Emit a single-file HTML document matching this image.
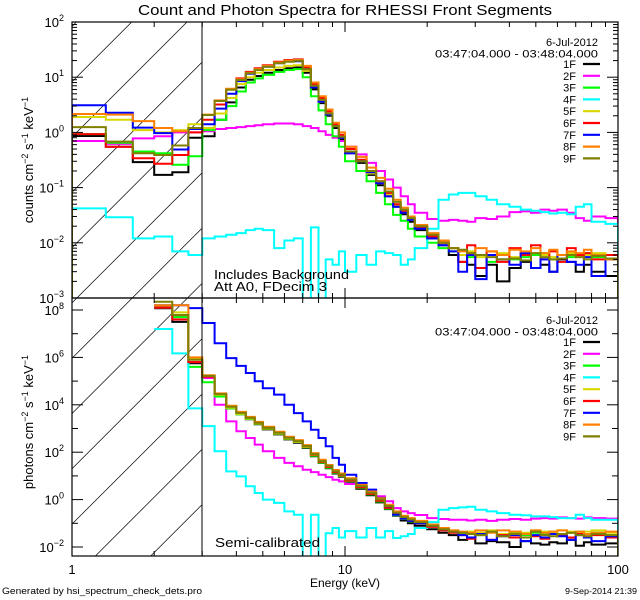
<!DOCTYPE html>
<html><head><meta charset="utf-8"><title>RHESSI spectra</title>
<style>
html,body{margin:0;padding:0;background:#fff;width:640px;height:600px;overflow:hidden;}
svg{display:block;font-family:"Liberation Sans",sans-serif;overflow:hidden;}
</style></head>
<body>
<svg id="chart" width="640" height="600" viewBox="0 0 640 600" xmlns="http://www.w3.org/2000/svg">
<defs>
<clipPath id="clipTop"><rect x="72" y="22" width="546" height="276"/></clipPath>
<clipPath id="clipBot"><rect x="72" y="298" width="546" height="258"/></clipPath>
<clipPath id="clipHatch"><rect x="72" y="22" width="130" height="534"/></clipPath>
</defs>
<rect x="0" y="0" width="640" height="600" fill="#fff"/>
<text x="345" y="15" font-size="15" text-anchor="middle" textLength="414" lengthAdjust="spacingAndGlyphs">Count and Photon Spectra for RHESSI Front Segments</text>
<g id="hatch" clip-path="url(#clipHatch)"></g>
<g id="seriesTop" clip-path="url(#clipTop)"></g>
<g id="seriesBot" clip-path="url(#clipBot)"></g>
<g id="axes"></g>
<line x1="202" y1="22" x2="202" y2="556" stroke="#000" stroke-width="1"/>
<text transform="translate(33,160) rotate(-90)" font-size="13" text-anchor="middle">counts cm<tspan dy="-5" font-size="9">−2</tspan><tspan dy="5"> s</tspan><tspan dy="-5" font-size="9">−1</tspan><tspan dy="5"> keV</tspan><tspan dy="-5" font-size="9">−1</tspan></text>
<text transform="translate(33,422) rotate(-90)" font-size="13" text-anchor="middle">photons cm<tspan dy="-5" font-size="9">−2</tspan><tspan dy="5"> s</tspan><tspan dy="-5" font-size="9">−1</tspan><tspan dy="5"> keV</tspan><tspan dy="-5" font-size="9">−1</tspan></text>
<text x="345" y="587" font-size="12" text-anchor="middle">Energy (keV)</text>
<text x="214" y="279" font-size="13" textLength="135" lengthAdjust="spacingAndGlyphs">Includes Background</text>
<text x="214" y="291" font-size="13" textLength="113" lengthAdjust="spacingAndGlyphs">Att A0, FDecim 3</text>
<text x="215" y="547" font-size="13" textLength="105" lengthAdjust="spacingAndGlyphs">Semi-calibrated</text>
<text x="2" y="594" font-size="9" textLength="200" lengthAdjust="spacingAndGlyphs">Generated by hsi_spectrum_check_dets.pro</text>
<text x="637" y="594" font-size="8" text-anchor="end" textLength="72" lengthAdjust="spacingAndGlyphs">9-Sep-2014 21:39</text>
<g id="legends"></g>
</svg>
<script>
// ---- data ----
const energyEdges = [1,1.33,1.67,2,2.33,2.67,3,3.33,3.67,4,4.33,4.67,5,5.5,6,6.5,7,7.5,8,8.5,9,9.5,10,11,12,13,14,15,16,17,18,20,22,24,26,28,30,33,36,40,44,48,52,56,60,65,70,75,80,90,100];
const seriesNames = ["1F","2F","3F","4F","5F","6F","7F","8F","9F"];
const seriesColors = ["#000000","#ff00ff","#00ff00","#00ffff","#d8d800","#ff0000","#0000ff","#ff8000","#808000"];
const xTickLabels = ["1","10","100"];
const countTickExps = [2,1,0,-1,-2,-3];
const photonTickExps = [8,6,4,2,0,-2];
const legendDate = "6-Jul-2012";
const legendTime = "03:47:04.000 - 03:48:04.000";

// counts cm-2 s-1 keV-1
const counts1F = [0.86,0.55,0.29,0.17,0.19,0.8,0.85,1.7,3.5,6.5,9,10.5,12,13.5,14.5,15,12,6,3.4,2.0,1.2,0.75,0.42,0.28,0.17,0.11,0.07,0.045,0.033,0.024,0.017,0.012,0.009,0.006,0.0045,0.004,0.0025,0.004,0.002,0.0035,0.0045,0.0035,0.004,0.003,0.005,0.0045,0.003,0.004,0.003,0.0025];
const counts2F = [0.7,0.62,0.78,0.85,1.0,1.0,1.05,1.15,1.2,1.25,1.3,1.35,1.4,1.45,1.45,1.4,1.3,1.2,1.05,0.9,0.8,0.7,0.55,0.4,0.28,0.2,0.14,0.1,0.07,0.05,0.035,0.027,0.025,0.026,0.025,0.024,0.028,0.027,0.03,0.036,0.037,0.035,0.04,0.038,0.04,0.035,0.028,0.025,0.03,0.028];
const counts3F = [0.93,0.65,0.45,0.42,0.26,0.37,1.1,1.7,3.0,5.5,8,9.5,11,12.5,13.5,14,10,4.5,2.5,1.4,0.85,0.55,0.3,0.2,0.13,0.08,0.05,0.032,0.025,0.018,0.013,0.01,0.008,0.007,0.006,0.0055,0.006,0.0045,0.006,0.005,0.0055,0.006,0.0065,0.005,0.006,0.0055,0.006,0.0065,0.0055,0.005];
const counts4F = [0.042,0.029,0.012,0.013,0.007,0.006,0.012,0.013,0.014,0.015,0.017,0.018,0.017,0.008,0.011,0.012,0.0007,0.019,0.0007,0.005,0.004,0.007,0.003,0.006,0.004,0.007,0.0065,0.006,0.004,0.005,0.008,0.018,0.06,0.075,0.08,0.08,0.07,0.06,0.05,0.045,0.04,0.038,0.036,0.034,0.035,0.033,0.045,0.05,0.024,0.022];
const counts5F = [1.9,1.7,1.1,1.0,1.1,1.4,1.2,2.2,4.2,7.5,10,12,13.5,15,16,16.5,13,6.5,3.6,2.1,1.3,0.8,0.44,0.3,0.18,0.12,0.075,0.048,0.036,0.026,0.019,0.013,0.01,0.008,0.006,0.007,0.0055,0.006,0.0065,0.0055,0.006,0.0065,0.006,0.0055,0.006,0.0065,0.0055,0.006,0.0065,0.006];
const counts6F = [0.93,0.55,0.34,0.27,0.39,1.0,1.7,3.2,6.0,9.5,12.5,14.5,16.5,19,20.5,21,15,7.5,4.2,2.4,1.4,0.9,0.5,0.32,0.2,0.13,0.08,0.05,0.038,0.027,0.019,0.013,0.01,0.008,0.0045,0.009,0.0035,0.007,0.0045,0.008,0.006,0.009,0.005,0.007,0.0045,0.008,0.006,0.0065,0.005,0.006];
const counts7F = [3.1,2.27,1.22,0.97,0.49,1.15,1.4,2.7,5.0,8.5,11.5,13.5,15.5,18,19.5,19.5,14,6.5,3.6,2.1,1.3,0.8,0.42,0.3,0.19,0.12,0.07,0.045,0.035,0.026,0.018,0.012,0.009,0.007,0.003,0.006,0.0022,0.006,0.005,0.004,0.0065,0.0035,0.005,0.003,0.006,0.0045,0.004,0.0055,0.0025,0.005];
const counts8F = [2.15,2.1,1.6,1.2,1.05,1.2,2.1,3.8,6.2,9.2,12,14,16,18.5,20,20.5,16,8,4.5,2.6,1.5,1.0,0.55,0.36,0.23,0.15,0.095,0.06,0.043,0.03,0.021,0.015,0.011,0.008,0.007,0.0065,0.008,0.007,0.006,0.0075,0.007,0.008,0.0065,0.0075,0.006,0.007,0.0065,0.0075,0.006,0.005];
const counts9F = [1.25,0.68,0.42,0.39,0.58,1.2,2.07,3.7,5.9,8.9,11.8,13.5,15.5,17.9,19.1,19.8,14,7,3.9,2.2,1.3,0.84,0.45,0.3,0.2,0.13,0.085,0.055,0.04,0.028,0.02,0.014,0.01,0.008,0.0075,0.0065,0.006,0.0055,0.005,0.0052,0.0048,0.0065,0.0055,0.005,0.0052,0.006,0.0055,0.005,0.0058,0.0052];

// photons cm-2 s-1 keV-1, stored as base-10 exponents (null = off scale)
const photonExp1F = [null,null,null,8.07,7.5,5.75,5.15,4.4,3.85,3.6,3.39,3.18,2.96,2.75,2.54,2.4,2.18,1.83,1.55,1.32,1.1,0.96,0.75,0.46,0.18,-0.12,-0.4,-0.68,-0.88,-1.0,-1.1,-1.25,-1.4,-1.5,-1.7,-1.6,-1.85,-1.75,-1.8,-2.0,-1.75,-1.85,-1.9,-1.8,-1.85,-1.7,-1.95,-1.8,-1.9,-1.85];
const photonExp2F = [null,null,null,8.1,7.7,5.8,5.13,4.0,3.3,2.88,2.6,2.32,2.04,1.76,1.55,1.41,1.26,1.16,1.05,0.95,0.84,0.77,0.66,0.56,0.35,0.14,-0.07,-0.36,-0.5,-0.57,-0.65,-0.78,-0.82,-0.85,-0.85,-0.88,-0.85,-0.9,-0.85,-0.82,-0.85,-0.8,-0.78,-0.8,-0.75,-0.78,-0.8,-0.75,-0.78,-0.8];
const photonExp3F = [null,null,null,8.1,7.7,5.6,4.95,4.35,3.85,3.6,3.4,3.2,2.99,2.78,2.57,2.43,2.21,1.85,1.56,1.34,1.13,0.99,0.78,0.5,0.22,-0.08,-0.38,-0.66,-0.82,-0.92,-1.0,-1.12,-1.27,-1.37,-1.45,-1.4,-1.5,-1.35,-1.45,-1.4,-1.5,-1.4,-1.45,-1.35,-1.45,-1.4,-1.35,-1.45,-1.4,-1.5];
const photonExp4F = [null,null,null,7.2,6.17,3.85,3.1,2.04,1.19,0.98,0.56,0.28,0.0,-0.14,-0.5,-0.64,-2.6,-0.64,-2.6,-1.42,-1.2,-1.6,-1.33,-1.6,-1.2,-1.6,-1.33,-1.62,-1.55,-1.45,-1.2,-0.95,-0.43,-0.36,-0.33,-0.3,-0.43,-0.5,-0.57,-0.64,-0.66,-0.71,-0.71,-0.74,-0.78,-0.78,-0.64,-0.78,-0.85,-0.85];
const photonExp5F = [null,null,null,8.15,7.9,5.95,5.2,4.42,3.88,3.62,3.42,3.21,3.0,2.79,2.58,2.44,2.23,1.88,1.6,1.38,1.17,1.03,0.82,0.54,0.27,0.0,-0.27,-0.55,-0.72,-0.82,-0.92,-1.07,-1.2,-1.3,-1.4,-1.35,-1.4,-1.3,-1.45,-1.35,-1.4,-1.3,-1.35,-1.4,-1.3,-1.35,-1.4,-1.35,-1.3,-1.4];
const photonExp6F = [null,null,null,8.1,7.6,5.8,5.18,4.46,3.93,3.67,3.46,3.25,3.04,2.83,2.62,2.47,2.25,1.9,1.6,1.38,1.16,1.02,0.8,0.52,0.24,-0.05,-0.35,-0.62,-0.8,-0.9,-1.0,-1.15,-1.3,-1.4,-1.5,-1.65,-1.45,-1.7,-1.5,-1.6,-1.45,-1.55,-1.65,-1.45,-1.5,-1.6,-1.45,-1.55,-1.5,-1.6];
const photonExp7F = [null,null,null,8.2,8.2,8.08,7.45,6.6,5.97,5.64,5.34,4.99,4.7,4.43,4.0,3.65,3.3,2.95,2.6,2.25,1.76,1.47,1.05,0.7,0.42,0.07,-0.28,-0.64,-0.8,-0.9,-1.0,-1.1,-1.25,-1.35,-1.5,-1.6,-1.45,-1.7,-1.55,-1.5,-1.75,-1.5,-1.6,-1.45,-1.55,-1.7,-1.5,-1.6,-1.75,-1.55];
const photonExp8F = [null,null,null,8.2,8.2,6.0,5.25,4.48,3.96,3.7,3.49,3.28,3.07,2.86,2.65,2.51,2.3,1.96,1.68,1.46,1.25,1.1,0.9,0.62,0.34,0.06,-0.22,-0.5,-0.68,-0.78,-0.9,-1.05,-1.2,-1.3,-1.35,-1.4,-1.3,-1.4,-1.3,-1.35,-1.45,-1.3,-1.4,-1.35,-1.3,-1.4,-1.35,-1.45,-1.4,-1.35];
const photonExp9F = [null,null,null,8.35,7.79,5.9,5.22,4.45,3.92,3.66,3.45,3.24,3.03,2.82,2.61,2.47,2.26,1.92,1.63,1.42,1.2,1.06,0.85,0.57,0.29,0.01,-0.27,-0.55,-0.74,-0.84,-0.95,-1.1,-1.25,-1.35,-1.4,-1.45,-1.5,-1.35,-1.55,-1.45,-1.6,-1.35,-1.5,-1.55,-1.45,-1.4,-1.5,-1.55,-1.45,-1.5];

const countSeries = [counts1F,counts2F,counts3F,counts4F,counts5F,counts6F,counts7F,counts8F,counts9F];
const photonSeries = [photonExp1F,photonExp2F,photonExp3F,photonExp4F,photonExp5F,photonExp6F,photonExp7F,photonExp8F,photonExp9F];

// ---- layout / scales ----
const NS = "http://www.w3.org/2000/svg";
const X0 = 72, X1 = 618, TOP0 = 22, TOP1 = 298, BOT0 = 298, BOT1 = 556;
const xPerDecade = (X1 - X0) / 2;
function xScale(e){ return X0 + xPerDecade * Math.log10(e); }
function yCounts(v){ let y = TOP0 + (2 - Math.log10(v)) * ((TOP1 - TOP0) / 5); return Math.min(y, TOP1 + 4); }
function yPhotons(ex){ let y = 310 + (8 - ex) * 23.7; return Math.max(Math.min(y, BOT1 + 4), BOT0 - 4); }
function mk(tag, attrs, parent){ const el = document.createElementNS(NS, tag); for (const k in attrs) el.setAttribute(k, attrs[k]); parent.appendChild(el); return el; }

function stepPath(vals, yfn, yBottom, startDrop){
  let d = "", pen = false, lastIdx = -1;
  for (let i = 0; i < vals.length; i++){
    const v = vals[i];
    if (v === null || v === undefined){ pen = false; continue; }
    const xa = xScale(energyEdges[i]), xb = xScale(energyEdges[i+1]), y = yfn(v);
    if (!pen){
      if (startDrop && i === 0) d += "M" + xa.toFixed(1) + "," + yBottom + "L" + xa.toFixed(1) + "," + y.toFixed(1);
      else d += "M" + xa.toFixed(1) + "," + y.toFixed(1);
      pen = true;
    } else d += "L" + xa.toFixed(1) + "," + y.toFixed(1);
    d += "L" + xb.toFixed(1) + "," + y.toFixed(1);
    lastIdx = i;
  }
  if (lastIdx >= 0) d += "L" + xScale(energyEdges[lastIdx+1]).toFixed(1) + "," + yBottom;
  return d;
}

// hatching (lines trimmed to the hatched rectangle)
const hatch = document.getElementById("hatch");
for (let c = 81.7 - 55.3; c < 700; c += 55.3){
  const xa = X0 + Math.max(0, c - BOT1), xb = X0 + Math.min(130, c - TOP0);
  if (xb <= xa) continue;
  const ln = mk("line", {x1: xa.toFixed(1), y1: (c - (xa - X0)).toFixed(1), x2: xb.toFixed(1), y2: (c - (xb - X0)).toFixed(1), stroke: "#000", "stroke-width": "0.7"}, hatch);
  
  
}

// series
const gTop = document.getElementById("seriesTop");
const gBot = document.getElementById("seriesBot");
for (let s = 0; s < seriesNames.length; s++){
  const p1 = mk("path", {d: stepPath(countSeries[s], yCounts, TOP1, true), fill: "none", stroke: seriesColors[s], "stroke-width": "2", "stroke-linejoin": "miter"}, gTop);
  
  
  const p2 = mk("path", {d: stepPath(photonSeries[s], yPhotons, BOT1, false), fill: "none", stroke: seriesColors[s], "stroke-width": "2", "stroke-linejoin": "miter"}, gBot);
  
  
}

// axes
const gAx = document.getElementById("axes");
function tick(x1,y1,x2,y2,name){
  const t = mk("line", {x1:x1, y1:y1, x2:x2, y2:y2, stroke:"#000", "stroke-width":"1"}, gAx);
  
  
}
[[TOP0,TOP1],[BOT0,BOT1]].forEach(function(pr, pi){
  const fr = mk("rect", {x: X0, y: pr[0], width: X1 - X0, height: pr[1] - pr[0], fill: "none", stroke: "#000", "stroke-width": "1.2"}, gAx);
  
  
  for (let dec = 1; dec <= 100; dec *= 10){
    for (let m = 1; m <= 9; m++){
      const e = dec * m; if (e > 100) break;
      const x = xScale(e), len = (m === 1) ? 10 : 5;
      tick(x, pr[1], x, pr[1] - len, 'x-tick');
      tick(x, pr[0], x, pr[0] + len, 'x-tick-top');
    }
  }
});
for (let ex = -3; ex <= 2; ex++){
  for (let m = 1; m <= 9; m++){
    if (ex === 2 && m > 1) break;
    const y = yCounts(m * Math.pow(10, ex)), len = (m === 1) ? 11 : 5;
    tick(X0, y, X0 + len, y, 'y-tick-counts');
    tick(X1, y, X1 - len, y, 'y-tick-counts-right');
  }
}
countTickExps.forEach(function(ex){
  const y = yCounts(Math.pow(10, ex));
  const t = mk("text", {x: 64, y: (y + 5).toFixed(1), "font-size": "13", "text-anchor": "end"}, gAx);
  
  
  t.innerHTML = '10<tspan dy="-6" font-size="9">' + String(ex).replace('-', '−') + '</tspan>';
});
for (let ex = -2; ex <= 8; ex++){
  const y = yPhotons(ex), len = (ex % 2 === 0) ? 11 : 6;
  tick(X0, y, X0 + len, y, 'y-tick-photons');
  tick(X1, y, X1 - len, y, 'y-tick-photons-right');
}
photonTickExps.forEach(function(ex){
  const y = yPhotons(ex);
  const t = mk("text", {x: 64, y: (y + 5).toFixed(1), "font-size": "13", "text-anchor": "end"}, gAx);
  
  
  t.innerHTML = '10<tspan dy="-6" font-size="9">' + String(ex).replace('-', '−') + '</tspan>';
});
xTickLabels.forEach(function(lb){
  const t = mk("text", {x: xScale(+lb).toFixed(1), y: 574, "font-size": "13", "text-anchor": "middle"}, gAx);
  
  
  t.textContent = lb;
});

// legends
const gLeg = document.getElementById("legends");
[20, 298].forEach(function(oy, li){
  const g = mk("g", {}, gLeg);
  
  
  const d1 = mk("text", {x: 598, y: (oy + 26).toFixed(1), "font-size": "11", "text-anchor": "end"}, g);
  
  
  d1.textContent = legendDate;
  const d2 = mk("text", {x: 598, y: (oy + 37.5).toFixed(1), "font-size": "11", "text-anchor": "end", textLength: "163", lengthAdjust: "spacingAndGlyphs"}, g);
  
  
  d2.textContent = legendTime;
  for (let s = 0; s < seriesNames.length; s++){
    const cy = oy + 44 + s * 11.8;
    const tx = mk("text", {x: 576, y: (cy + 4).toFixed(1), "font-size": "11", "text-anchor": "end"}, g);
    
    
    tx.textContent = seriesNames[s];
    const sw = mk("line", {x1: 583, y1: cy.toFixed(1), x2: 600, y2: cy.toFixed(1), stroke: seriesColors[s], "stroke-width": "2.2"}, g);
    
    
  }
});
</script>
</body></html>
